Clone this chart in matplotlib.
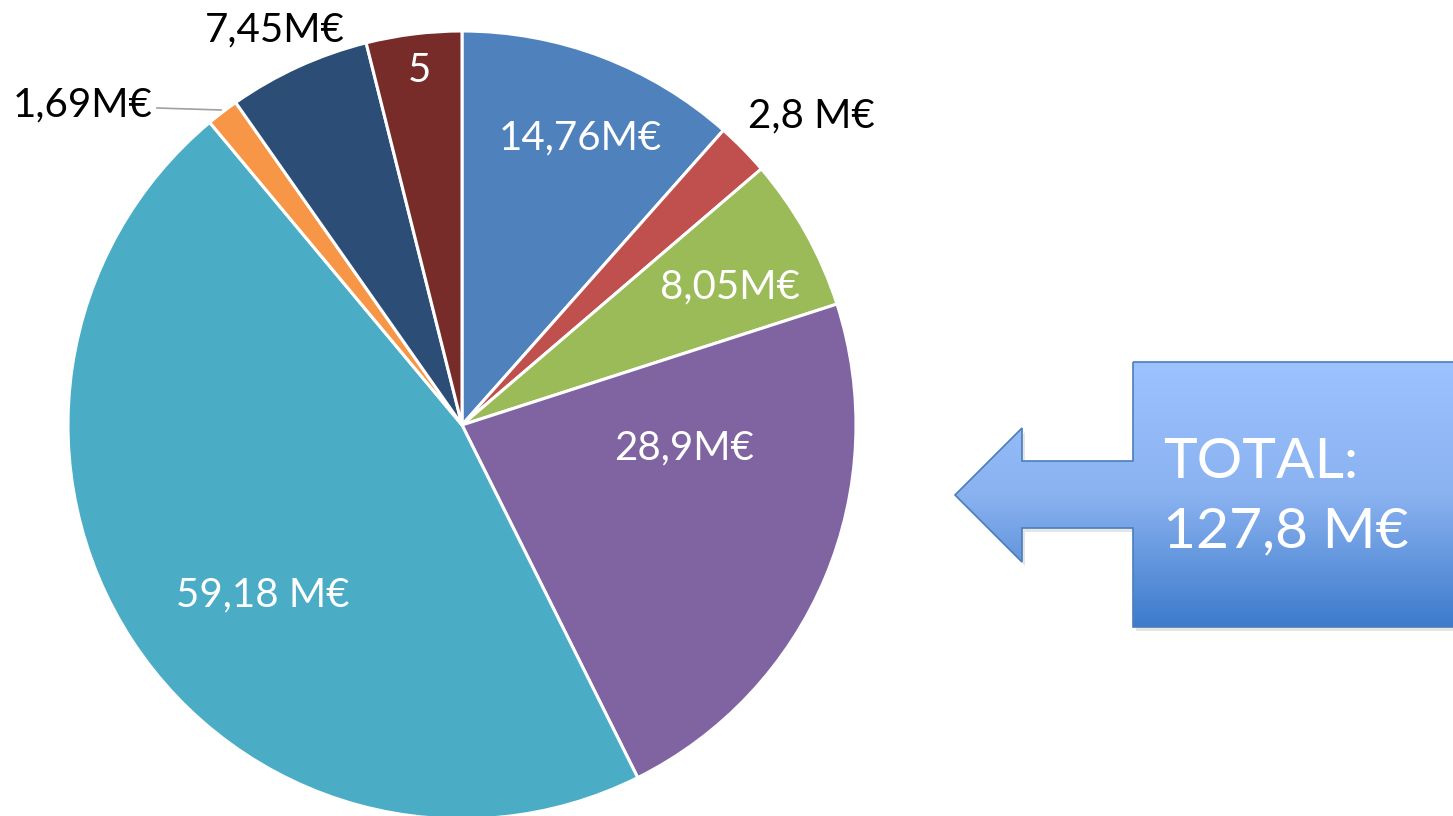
import matplotlib.pyplot as plt
import numpy as np
from matplotlib.path import Path
from matplotlib.patches import PathPatch
from matplotlib.colors import LinearSegmentedColormap

# slice values (M€), clockwise from 12 o'clock
values = [14.76, 2.8, 8.05, 28.9, 59.18, 1.69, 7.45, 5]
labels = ["14,76M€", "2,8 M€", "8,05M€", "28,9M€", "59,18 M€", "1,69M€", "7,45M€", "5"]
colors = ["#4F81BD", "#C0504D", "#9BBB59", "#8064A2", "#4BACC6",
          "#F79646", "#2C4D75", "#772C2A"]
total_text = "TOTAL:\n127,8 M€"

# label layout (pixel coords, y from top) and colour
label_pos = [(580, 138), (811, 116), (730, 287), (684, 448), (263, 595),
             (83, 105), (275, 30), (419, 70)]
label_col = ["white", "black", "white", "white", "white", "black", "black", "white"]

W, H = 1453, 816
fig = plt.figure(figsize=(W / 100, H / 100), dpi=100)
ax = fig.add_axes([0, 0, 1, 1])

font = dict(family=["Lato", "DejaVu Sans"], fontweight="normal")

cx, cy, r = 462, H - 425, 394
ax.pie(values, colors=colors, startangle=90, counterclock=False,
       center=(cx, cy), radius=r, frame=True,
       wedgeprops=dict(edgecolor="white", linewidth=2.2))

for lab, (x, y), col in zip(labels, label_pos, label_col):
    ax.text(x, H - y, lab, color=col, fontsize=29, ha="center", va="center", **font)

# leader line for the small slice
ax.plot([157, 221], [H - 108, H - 110], color="#A0A0A0", lw=1.2)

# arrow shaped callout with vertical gradient
pts = [(1133, 362), (1460, 362), (1460, 627), (1133, 627), (1133, 528),
       (1022, 528), (1022, 562), (955, 495), (1022, 428), (1022, 461),
       (1133, 461), (1133, 362)]
pts = [(x, H - y) for x, y in pts]
shadow = PathPatch(Path([(x + 3, y - 4) for x, y in pts]), fc="#000000", ec="none",
                   alpha=0.10, zorder=2)
ax.add_patch(shadow)
path = Path(pts)
clip = PathPatch(path, fc="none", ec="none")
ax.add_patch(clip)
grad = np.linspace(0, 1, 256).reshape(-1, 1)
cmap = LinearSegmentedColormap.from_list("g", ["#9DC3FF", "#8AB2F0", "#3D7BCB"])
im = ax.imshow(grad, cmap=cmap, extent=(955, 1460, H - 627, H - 362),
               origin="upper", aspect="auto", zorder=3)
im.set_clip_path(clip)
ax.add_patch(PathPatch(path, fc="none", ec="#4A7EBB", lw=1.2, zorder=4))

ax.text(1163, H - 497, total_text, color="white", fontsize=41, ha="left",
        va="center", linespacing=1.45, zorder=5, **font)

ax.set_xlim(0, W)
ax.set_ylim(0, H)
ax.set_aspect("equal")
ax.axis("off")

fig.savefig("out.png", dpi=100)
